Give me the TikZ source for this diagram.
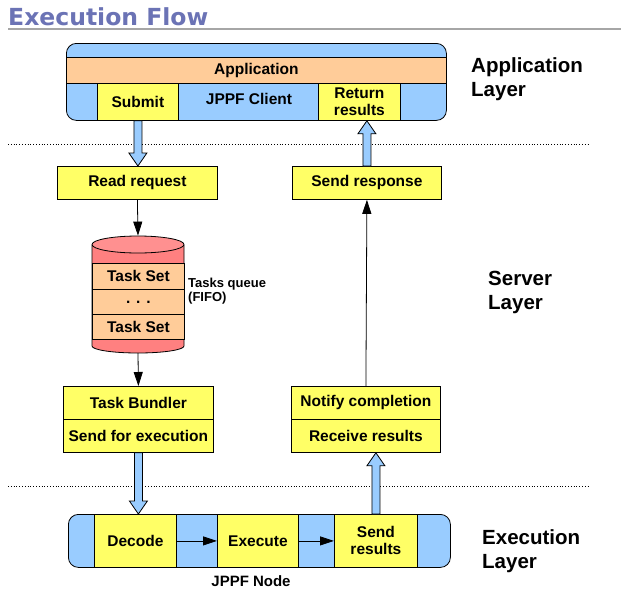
\documentclass[tikz,border=0pt]{standalone}
\usepackage{fontspec}
\setmainfont{Liberation Sans}
\newfontfamily\titlefont{DejaVu Sans}
\usetikzlibrary{arrows.meta,calc,shapes.geometric}
\definecolor{lblue}{HTML}{99CCFF}
\definecolor{lorange}{HTML}{FFCC99}
\definecolor{lyellow}{HTML}{FFFF66}
\definecolor{lred}{HTML}{FF8080}
\definecolor{lredtop}{HTML}{FF9090}
\definecolor{titleblue}{HTML}{6B73B5}
\tikzset{
  ybox/.style={draw=black, fill=lyellow, line width=0.8pt, inner sep=0pt, font=\bfseries\fontsize{15.5}{17}\selectfont},
  obox/.style={draw=black, fill=lorange, line width=0.8pt, inner sep=0pt, font=\bfseries\fontsize{15.5}{17}\selectfont},
  plain/.style={inner sep=0pt, font=\bfseries\fontsize{15.5}{17}\selectfont},
  layerlbl/.style={inner sep=0pt, anchor=west, align=left, font=\bfseries\fontsize{20.5}{24}\selectfont},
  blk/.style={draw=black, line width=0.8pt, -{Triangle[length=14pt,width=9pt]}},
  blockarr/.style={draw=black, fill=lblue, line width=0.8pt},
  sep/.style={draw=black, line width=0.8pt, dotted},
}
\newcommand{\downblock}[2]{%
  \path[blockarr] let \p1=(#1), \p2=(#2) in
    (\x1-4pt,\y1) -- (\x1-4pt,\y2+13pt) -- (\x1-9pt,\y2+13pt) -- (\x1,\y2)
    -- (\x1+9pt,\y2+13pt) -- (\x1+4pt,\y2+13pt) -- (\x1+4pt,\y1) -- cycle;}
\newcommand{\upblock}[2]{%
  \path[blockarr] let \p1=(#1), \p2=(#2) in
    (\x1-4pt,\y1) -- (\x1-4pt,\y2-13pt) -- (\x1-9pt,\y2-13pt) -- (\x1,\y2)
    -- (\x1+9pt,\y2-13pt) -- (\x1+4pt,\y2-13pt) -- (\x1+4pt,\y1) -- cycle;}
\begin{document}
\begin{tikzpicture}[x=1pt,y=-1pt]
\useasboundingbox[fill=white] (0,0) rectangle (621,608);
% title
\node[anchor=base west, inner sep=0pt, text=titleblue, font=\titlefont\bfseries\fontsize{23.5}{26}\selectfont] (title) at (8,25.5) {Execution Flow};
\coordinate (ulA) at (8,29);
\coordinate (ulB) at (621,29);
\draw[line width=1.2pt, draw=black!35] (ulA) -- (ulB);

% Application layer
\node[draw=black, fill=lblue, line width=0.8pt, rounded corners=10pt, minimum width=380pt, minimum height=77pt, anchor=north west, inner sep=0pt] (appbox) at (66,43) {};
\node[obox, minimum width=380pt, minimum height=26pt, anchor=north west] (application) at (66,57) {Application};
\node[ybox, minimum width=81pt, minimum height=37pt, anchor=north west] (submit) at (97,83) {Submit};
\node[ybox, minimum width=82pt, minimum height=37pt, anchor=north west, align=center] (retres) at (318,83) {Return\\results};
\node[plain] (client) at (249,99) {JPPF Client};
\node[layerlbl] (applayer) at (471,79) {Application\\Layer};

% separators
\coordinate (s1a) at (8,144); \coordinate (s1b) at (588,144);
\coordinate (s2a) at (8,486); \coordinate (s2b) at (588,486);
\draw[sep] (s1a) -- (s1b);
\draw[sep] (s2a) -- (s2b);

% Server layer
\node[ybox, minimum width=160pt, minimum height=33pt, anchor=north west] (readreq) at (57,166) {Read request};
\node[ybox, minimum width=149pt, minimum height=33pt, anchor=north west] (sendresp) at (292,166) {Send response};
\node[layerlbl] (srvlayer) at (488,292) {Server\\Layer};

% cylinder
\fill[lred] (92,245) -- (92,346) arc[start angle=180, end angle=360, x radius=46pt, y radius=7pt] -- (184,245) -- cycle;
\draw[line width=0.8pt] (92,245) -- (92,346) arc[start angle=180, end angle=360, x radius=46pt, y radius=7pt] -- (184,245);
\node[obox, minimum width=92pt, minimum height=26pt, anchor=north west] (ts1) at (92,263) {Task Set};
\node[obox, minimum width=92pt, minimum height=25pt, anchor=north west] (dots) at (92,289) {. . .};
\node[obox, minimum width=92pt, minimum height=25pt, anchor=north west] (ts2) at (92,314) {Task Set};
\node[draw=black, fill=lredtop, line width=0.8pt, ellipse, minimum width=92pt, minimum height=17pt, inner sep=0pt] (cyltop) at (138,244.5) {};
\coordinate (cylbot) at (138,353);
\node[inner sep=0pt, anchor=west, align=left, font=\bfseries\fontsize{13}{14.5}\selectfont] (queue) at (188,291) {Tasks queue\\(FIFO)};

\node[ybox, minimum width=150pt, minimum height=33pt, anchor=north west] (bundler) at (63,386) {Task Bundler};
\node[ybox, minimum width=150pt, minimum height=33pt, anchor=north west] (sendexec) at (63,419) {Send for execution};
\node[ybox, minimum width=149pt, minimum height=33pt, anchor=north west] (notify) at (291,386) {Notify completion};
\node[ybox, minimum width=149pt, minimum height=33pt, anchor=north west] (recv) at (291,419) {Receive results};

% Execution layer
\node[draw=black, fill=lblue, line width=0.8pt, rounded corners=10pt, minimum width=382pt, minimum height=53pt, anchor=north west, inner sep=0pt] (nodebox) at (68,514) {};
\node[ybox, minimum width=82pt, minimum height=53pt, anchor=north west] (decode) at (94,514) {Decode};
\node[ybox, minimum width=81pt, minimum height=53pt, anchor=north west] (execute) at (217,514) {Execute};
\node[ybox, minimum width=83pt, minimum height=53pt, anchor=north west, align=center] (sendres) at (334,514) {Send\\results};
\node[inner sep=0pt, font=\bfseries\fontsize{15}{17}\selectfont] (jppfnode) at (251,581) {JPPF Node};
\node[layerlbl] (exelayer) at (482,551) {Execution\\Layer};

% connectors
\downblock{submit.south}{readreq.north}
\upblock{sendresp.north}{retres.south}
\downblock{sendexec.south}{decode.north}
\upblock{sendres.north}{recv.south}
\draw[blk] (readreq.south) -- (cyltop.north);
\draw[blk] (cylbot) -- (bundler.north);
\draw[blk] (notify.north) -- (sendresp.south);
\draw[blk] (decode.east) -- (execute.west);
\draw[blk] (execute.east) -- (sendres.west);
\end{tikzpicture}
\end{document}
